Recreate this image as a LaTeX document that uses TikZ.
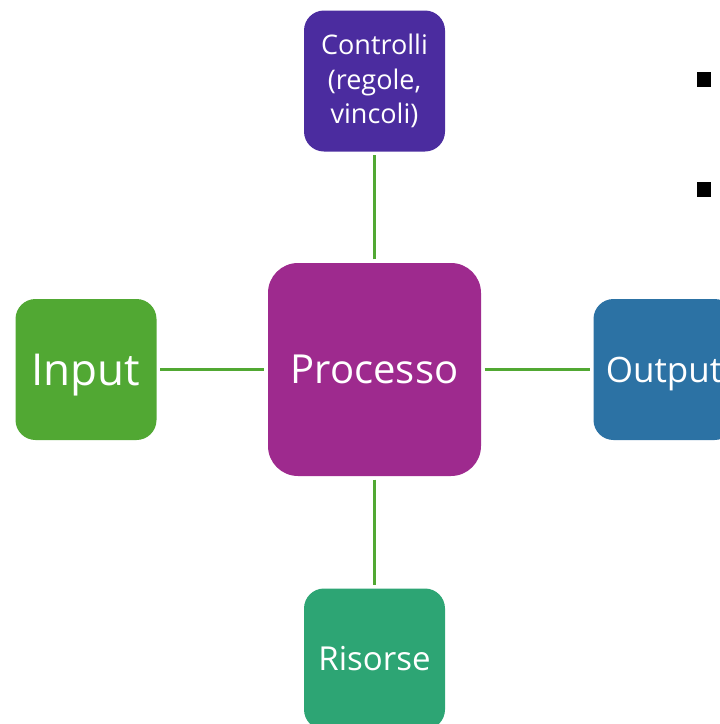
\documentclass[tikz,border=0pt]{standalone}
\usepackage{fontspec}
\setmainfont{Open Sans}
\definecolor{ctrlpurple}{HTML}{4B2C9F}
\definecolor{procmagenta}{HTML}{9E2A8E}
\definecolor{ingreen}{HTML}{51A833}
\definecolor{outblue}{HTML}{2C72A4}
\definecolor{resgreen}{HTML}{2DA574}
\definecolor{linkgreen}{HTML}{51A833}
\tikzset{
  block/.style={rectangle, rounded corners=20pt, text=white, align=center,
    inner sep=0pt, minimum width=141pt, minimum height=141pt},
  link/.style={draw=linkgreen, line width=3pt, shorten <=3.5pt, shorten >=3.5pt},
  bulletsq/.style={rectangle, fill=black, minimum size=14.5pt, inner sep=0pt}
}
\begin{document}
\begin{tikzpicture}[x=1pt, y=-1pt]
  \useasboundingbox (0,0) rectangle (720,724);
  \clip (0,0) rectangle (720,724);

  % central process and its four surrounding blocks
  \node[block, fill=procmagenta, minimum width=213pt, minimum height=213pt,
        rounded corners=30pt, font=\fontsize{40}{48}\selectfont]
        (proc) at (374.5,369.5) {Processo};
  \node[block, fill=ctrlpurple, font=\fontsize{27}{34.5}\selectfont]
        (ctrl) at (374.5,81) {Controlli\\(regole,\\vincoli)};
  \node[block, fill=ingreen, text depth=0pt, font=\fontsize{44}{52}\selectfont]
        (in) at (86,369.5) {Input};
  \node[block, fill=outblue, text depth=0pt, font=\fontsize{35}{42}\selectfont]
        (out) at (664,369.5) {Output};
  \node[block, fill=resgreen, font=\fontsize{33}{40}\selectfont]
        (res) at (374.5,659) {Risorse};

  % connectors
  \draw[link] (in.east) -- (proc.west);
  \draw[link] (proc.east) -- (out.west);
  \draw[link] (proc.north) -- (ctrl.south);
  \draw[link] (proc.south) -- (res.north);

  % list bullets on the right
  \node[bulletsq] (b1) at (704,79.5) {};
  \node[bulletsq] (b2) at (704,189.5) {};
\end{tikzpicture}
\end{document}
